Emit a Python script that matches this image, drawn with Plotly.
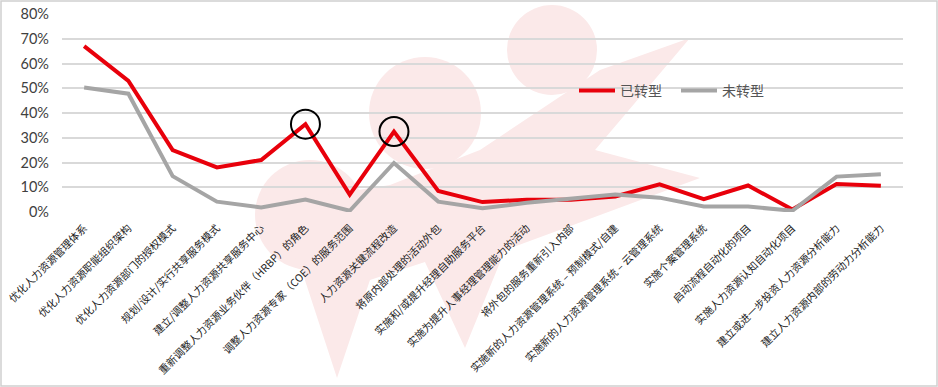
import plotly.graph_objects as go

categories = [
    "优化人力资源管理体系",
    "优化人力资源职能组织架构",
    "优化人力资源部门的授权模式",
    "规划/设计/实行共享服务模式",
    "建立/调整人力资源共享服务中心",
    "重新调整人力资源业务伙伴（HRBP）的角色",
    "调整人力资源专家（COE）的服务范围",
    "人力资源关键流程改造",
    "将原内部处理的活动外包",
    "实施和/或提升经理自助服务平台",
    "实施为提升人事经理管理能力的活动",
    "将外包的服务重新引入内部",
    "实施新的人力资源管理系统 – 预制模式/自建",
    "实施新的人力资源管理系统 – 云管理系统",
    "实施个案管理系统",
    "启动流程自动化的项目",
    "实施人力资源认知自动化项目",
    "建立或进一步投资人力资源分析能力",
    "建立人力资源内部的劳动力分析能力",
]
transformed = [67, 53, 25, 18, 21, 35.5, 7, 32.5, 8.5, 4, 5, 5, 6.3, 11.2, 5.2, 10.7, 1, 11.3, 10.6]
not_transformed = [50.3, 47.8, 14.5, 4.2, 1.8, 5, 0.5, 19.8, 4.2, 1.5, 3.7, 5.6, 7.1, 5.8, 2.2, 2.2, 0.5, 14.3, 15.3]
highlight_idx = [5, 7]
y_ticks = [0, 10, 20, 30, 40, 50, 60, 70, 80]
y_tick_text = [f"{v}%" for v in y_ticks]

W, H = 938, 387
ML, MR, MT, MB = 62, 35, 14, 175
PW, PH = W - ML - MR, H - MT - MB


def px(x):
    return (x - ML) / PW


def py(y):
    return (H - MB - y) / PH


fig = go.Figure()
fig.add_trace(go.Scatter(x=categories, y=transformed, mode="lines", name="已转型",
                         line=dict(color="#E8000B", width=4)))
fig.add_trace(go.Scatter(x=categories, y=not_transformed, mode="lines", name="未转型",
                         line=dict(color="#A5A5A5", width=4)))
fig.add_trace(go.Scatter(x=[categories[i] for i in highlight_idx],
                         y=[transformed[i] for i in highlight_idx],
                         mode="markers", showlegend=False, hoverinfo="skip",
                         marker=dict(symbol="circle-open", size=29,
                                     line=dict(color="black", width=2), color="black")))

# faint watermark logo in the background (opaque pale pink, drawn below the grid)
wm = "#FBE9E9"


def circ(cx, cy, r):
    return dict(type="circle", xref="paper", yref="paper",
                x0=px(cx - r), x1=px(cx + r), y0=py(cy + r), y1=py(cy - r),
                fillcolor=wm, line=dict(width=0), layer="below")


def poly(points):
    p = "M " + " L ".join(f"{px(a):.4f} {py(b):.4f}" for a, b in points) + " Z"
    return dict(type="path", xref="paper", yref="paper", path=p,
                fillcolor=wm, line=dict(width=0), layer="below")


shapes = [
    circ(552, 50, 45),
    circ(425, 113, 56),
    circ(310, 215, 55),
    poly([(337, 378), (300, 265), (262, 205), (390, 185), (480, 150), (600, 70),
          (690, 38), (595, 150), (700, 178), (565, 228), (505, 250), (465, 348),
          (425, 262), (370, 280)]),
    dict(type="rect", xref="paper", yref="paper",
         x0=px(1), x1=px(W - 1), y0=py(H - 1), y1=py(1),
         line=dict(color="#D0D0D0", width=1.5), fillcolor="rgba(0,0,0,0)"),
]

fig.update_layout(
    width=W, height=H,
    margin=dict(l=ML, r=MR, t=MT, b=MB),
    paper_bgcolor="white", plot_bgcolor="rgba(0,0,0,0)",
    font=dict(family="Noto Sans CJK SC, Noto Sans, sans-serif", color="#333333"),
    showlegend=True,
    legend=dict(orientation="h", x=px(574), y=py(91), xanchor="left", yanchor="middle",
                font=dict(size=14, color="#555555",
                          family="Noto Sans CJK SC, sans-serif"),
                bgcolor="rgba(0,0,0,0)", itemwidth=36,
                entrywidth=51, entrywidthmode="pixels"),
    shapes=shapes,
    xaxis=dict(type="category", range=[-0.5, len(categories) - 0.5],
               tickangle=-45, automargin=False,
               tickfont=dict(size=10.5, color="#222222"),
               ticklabelstandoff=7, ticklabelshift=0,
               showgrid=False, showline=False, ticks="", zeroline=False),
    yaxis=dict(range=[0, 80], tickvals=y_ticks, ticktext=y_tick_text, automargin=False,
               tickfont=dict(size=14.5, color="#404040", family="Lato, sans-serif"),
               ticklabelstandoff=12,
               showgrid=True, gridcolor="#D9D9D9", gridwidth=1.5, zeroline=False,
               showline=False, ticks="", ticklen=0),
)

fig.write_html("out.html", config={"displayModeBar": False},
               post_script="document.body.style.margin='0';document.body.style.overflow='hidden';")
